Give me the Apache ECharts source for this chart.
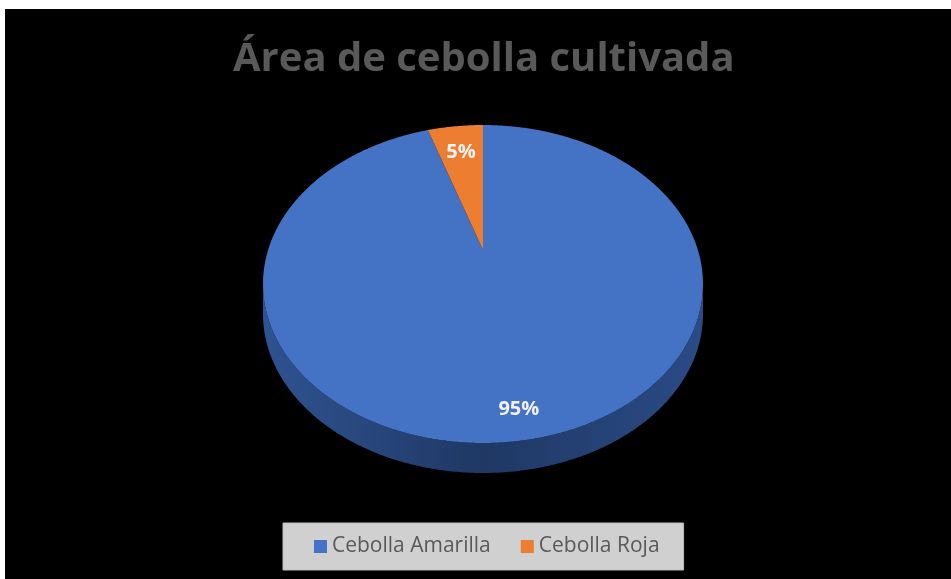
<!DOCTYPE html>
<html><head><meta charset="utf-8">
<script src="https://cdn.jsdelivr.net/npm/echarts@6/dist/echarts.min.js"></script>
<style>
html,body{margin:0;padding:0;background:#fff;width:951px;height:579px;overflow:hidden}
#chart{position:absolute;left:5px;top:9px;width:946px;height:570px;background:#000}
</style></head>
<body><div id="chart"></div>
<script>
// ---- data ----
const categories = ['Cebolla Amarilla', 'Cebolla Roja'];
const values = [95, 5];
const chartTitle = 'Área de cebolla cultivada';

// ---- styles ----
const topColors = ['#4472C4', '#ED7D31'];
const labelRadius = [0.87, 0.76];
const geo = { cx: 478, cy: 275, rx: 220, ry: 159, depth: 30, persp: -0.214 };

const total = values.reduce((s, v) => s + v, 0);

function project(r, phi) {
  const a = geo.persp;
  const u = r * Math.sin(phi), v = -r * Math.cos(phi);
  const w = 1 + a * v;
  const X = u * Math.sqrt(1 - a * a) / w;
  const Y = (v + a) / w;
  return [geo.cx + geo.rx * X, geo.cy + geo.ry * Y, Y];
}

function makeRender(idx) {
  return function (params, api) {
    let start = 0;
    for (let i = 0; i < idx; i++) start += values[i];
    const val = api.value(0);
    const p0 = 2 * Math.PI * start / total;
    const p1 = 2 * Math.PI * (start + val) / total;
    const steps = Math.max(2, Math.ceil((p1 - p0) / (Math.PI / 360)));
    const arc = [];
    for (let k = 0; k <= steps; k++) arc.push(project(1, p0 + (p1 - p0) * k / steps));
    const children = [];
    const front = arc.filter(p => p[2] >= 0);
    if (front.length > 1) {
      const pts = front.map(p => [p[0], p[1]]);
      for (let k = front.length - 1; k >= 0; k--) pts.push([front[k][0], front[k][1] + geo.depth]);
      children.push({
        type: 'polygon', shape: { points: pts },
        style: { fill: idx === 0 ? new echarts.graphic.LinearGradient(0, 0, 1, 0, [
          { offset: 0, color: '#2f5391' }, { offset: 0.5, color: '#1f3864' }, { offset: 1, color: '#2b4b86' }
        ]) : '#a85a22' }
      });
    }
    const apex = project(0, 0);
    const topPts = [[apex[0], apex[1]]].concat(arc.map(p => [p[0], p[1]]));
    children.push({ type: 'polygon', shape: { points: topPts }, style: { fill: topColors[idx] } });
    const mid = (p0 + p1) / 2;
    const lp = project(labelRadius[idx], mid);
    children.push({
      type: 'text', x: lp[0], y: lp[1],
      style: { text: Math.round(val / total * 100) + '%', fill: '#f2f2f2',
        font: 'bold 20px "Open Sans", sans-serif', align: 'center', verticalAlign: 'middle' }
    });
    return { type: 'group', children };
  };
}

const chart = echarts.init(document.getElementById('chart'), null, { renderer: 'canvas' });
chart.setOption({
  backgroundColor: '#000',
  animation: false,
  title: {
    text: chartTitle, left: 223, top: 26,
    textStyle: { color: '#595959', fontSize: 40, fontWeight: 'bold', fontFamily: '"Open Sans", sans-serif' }
  },
  legend: {
    data: categories, left: 278, top: 514,
    backgroundColor: '#d0d0d0', borderColor: '#bdbdbd', borderWidth: 1,
    padding: [13, 24, 13, 31], itemGap: 30, itemWidth: 13, itemHeight: 13, icon: 'rect',
    textStyle: { color: '#595959', fontSize: 21, fontFamily: '"Open Sans", sans-serif' }
  },
  series: categories.map((name, i) => ({
    type: 'custom', name: name, coordinateSystem: 'none',
    itemStyle: { color: topColors[i] },
    data: [values[i]], renderItem: makeRender(i), z: 2
  }))
});
</script></body></html>
